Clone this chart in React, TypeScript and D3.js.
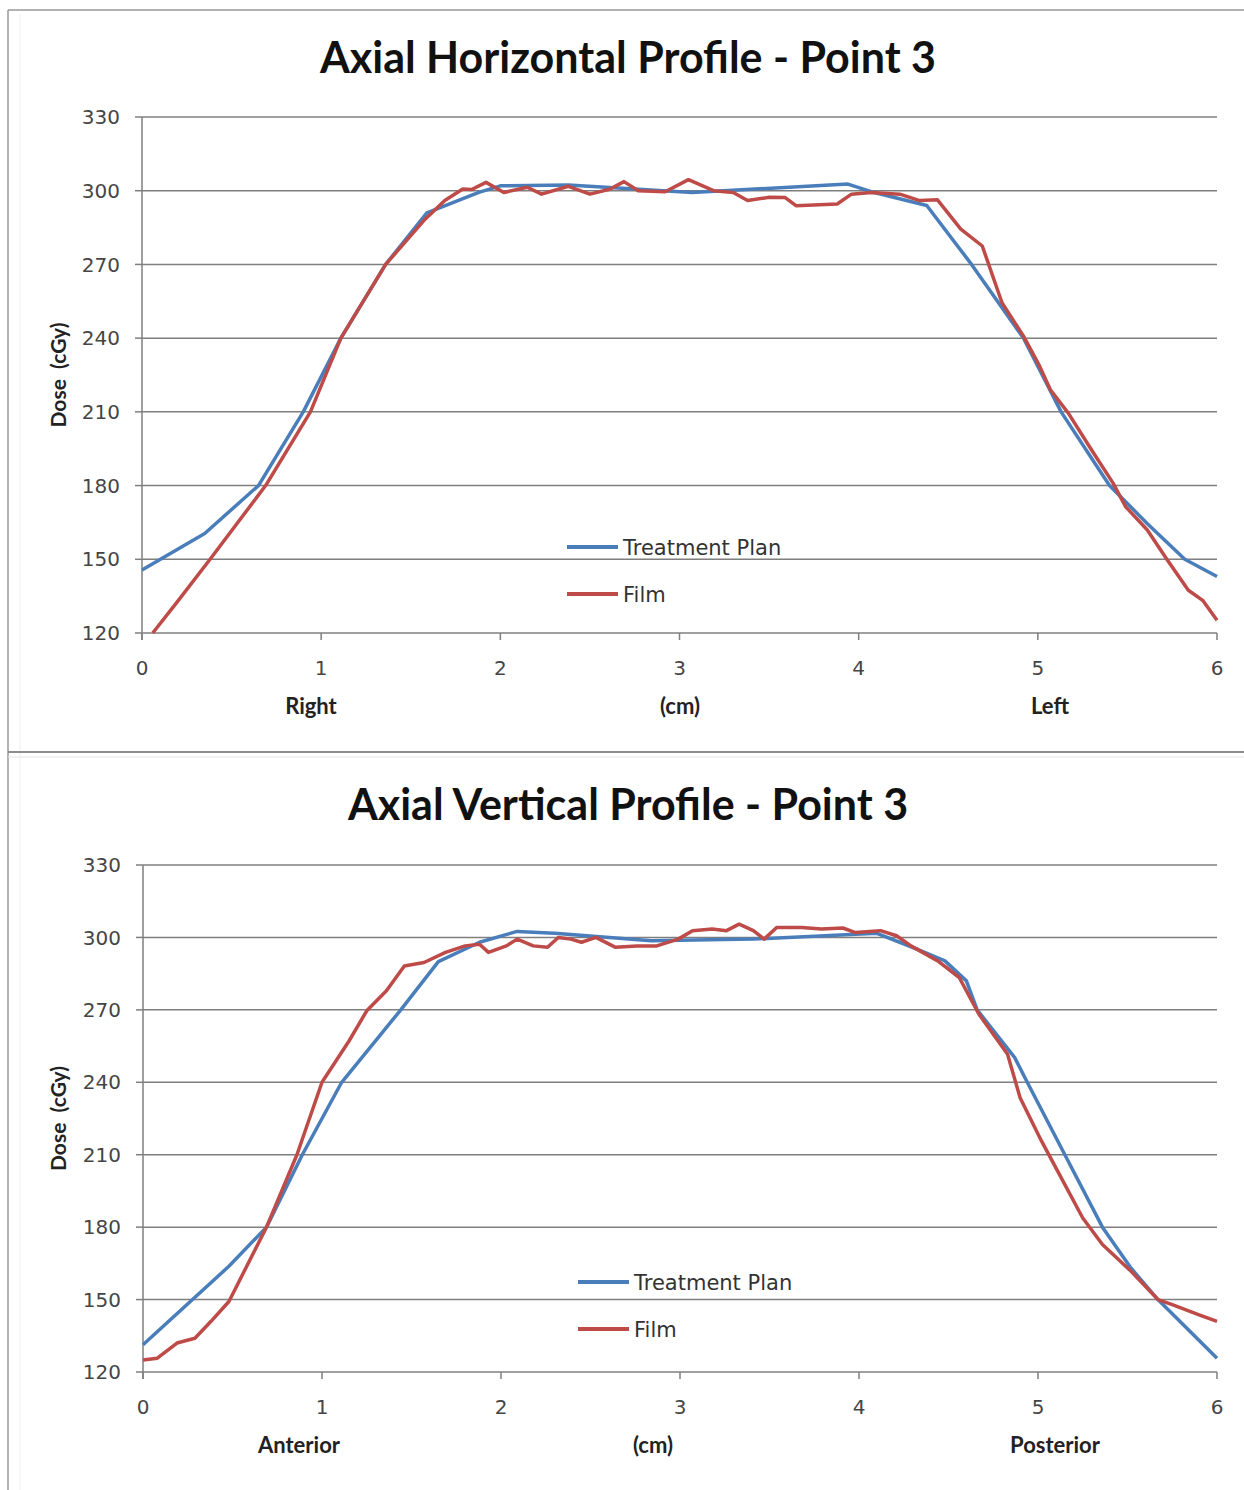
import React from "react";
import * as d3 from "d3";

// ---------- DATA ----------
const yTicks = [120, 150, 180, 210, 240, 270, 300, 330];
const xTicks = [0, 1, 2, 3, 4, 5, 6];

const legendLabels = ["Treatment Plan", "Film"];

// Top chart: Axial Horizontal Profile
const hTitle = "Axial Horizontal Profile - Point 3";
const hAxisLabels = ["Right", "(cm)", "Left"];
const hPlanX = [0, 0.35, 0.65, 0.9, 1.11, 1.36, 1.59, 1.88, 2.0, 2.38, 3.07, 3.94, 4.07, 4.38, 4.63, 4.92, 5.13, 5.4, 5.61, 5.82, 6.0];
const hPlanY = [145.6, 160.5, 180, 210, 240, 270, 291, 299.3, 302, 302.3, 299.3, 302.7, 299.6, 294, 270, 240, 210, 180, 164.6, 150, 143];
const hFilmX = [0.06, 0.2, 0.38, 0.69, 0.94, 1.11, 1.36, 1.58, 1.69, 1.79, 1.84, 1.92, 2.02, 2.15, 2.23, 2.38, 2.5, 2.61, 2.69, 2.77, 2.92, 3.05, 3.19, 3.3, 3.38, 3.5, 3.59, 3.65, 3.88, 3.96, 4.07, 4.23, 4.34, 4.44, 4.57, 4.69, 4.8, 4.92, 5.01, 5.07, 5.17, 5.3, 5.42, 5.49, 5.61, 5.72, 5.84, 5.92, 6.0];
const hFilmY = [120, 133, 150, 180, 210, 240, 270, 288.4, 296, 300.7, 300.5, 303.4, 299.3, 301.4, 298.6, 301.8, 298.6, 300.6, 303.7, 300, 299.6, 304.5, 300, 299.3, 296, 297.3, 297.2, 293.9, 294.6, 298.6, 299.3, 298.6, 296, 296.3, 284.4, 277.5, 254.4, 240.8, 228.6, 219, 209.5, 194.5, 181, 171.4, 162, 150, 137.4, 133.3, 125.2];

// Bottom chart: Axial Vertical Profile
const vTitle = "Axial Vertical Profile - Point 3";
const vAxisLabels = ["Anterior", "(cm)", "Posterior"];
const vPlanX = [0, 0.48, 0.69, 0.89, 1.11, 1.44, 1.65, 1.88, 2.09, 2.3, 2.84, 3.41, 4.1, 4.33, 4.48, 4.6, 4.66, 4.87, 4.94, 5.15, 5.36, 5.52, 5.67, 6.0];
const vPlanY = [131.3, 163.8, 180, 210, 240, 270, 290, 298, 302.5, 301.7, 298.6, 299.3, 301.7, 295, 290.3, 282, 270, 250.2, 240, 210, 180, 163, 150, 125.7];
const vFilmX = [0, 0.08, 0.19, 0.29, 0.38, 0.48, 0.69, 0.86, 1.0, 1.15, 1.25, 1.36, 1.46, 1.57, 1.69, 1.8, 1.88, 1.93, 2.03, 2.09, 2.18, 2.26, 2.32, 2.39, 2.45, 2.53, 2.64, 2.76, 2.87, 2.99, 3.07, 3.18, 3.26, 3.33, 3.41, 3.47, 3.54, 3.68, 3.79, 3.91, 3.98, 4.12, 4.21, 4.29, 4.44, 4.56, 4.67, 4.83, 4.9, 5.02, 5.13, 5.25, 5.36, 5.52, 5.67, 5.75, 5.9, 6.0];
const vFilmY = [125, 125.7, 132, 134, 141, 149.2, 180, 210, 240, 257, 269.6, 277.9, 288.2, 289.6, 293.8, 296.5, 297.2, 293.8, 296.5, 299.3, 296.5, 295.9, 300, 299.3, 298, 300, 295.9, 296.5, 296.5, 299.3, 302.8, 303.5, 302.8, 305.5, 302.8, 299.3, 304.1, 304.1, 303.5, 303.9, 302, 302.8, 300.7, 296.5, 290.3, 283.4, 268.2, 251.6, 233.6, 215.6, 200.4, 183.8, 172.8, 161.7, 150, 147.9, 143.7, 141];

const zip = (xs: number[], ys: number[]) => xs.map((x, i) => [x, ys[i]] as [number, number]);

const BLUE = "#4A7EBB";
const RED = "#BE4B48";

type ChartProps = {
  title: string;
  titleY: number;
  axisLabels: string[];
  axisLabelX: number[];
  left: number; right: number; top: number; bottom: number;
  plan: [number, number][];
  film: [number, number][];
  legendX: number; legendY: number;
};

function Chart(p: ChartProps) {
  const x = d3.scaleLinear().domain([0, 6]).range([p.left, p.right]);
  const y = d3.scaleLinear().domain([120, 330]).range([p.bottom, p.top]);
  const line = d3.line<[number, number]>().x(d => x(d[0])).y(d => y(d[1]));
  const tickFont = "'DejaVu Sans', sans-serif";
  const labelFont = "Lato, 'Open Sans', sans-serif";
  return (
    <g>
      <text x={628} y={p.titleY} textAnchor="middle" fontFamily={labelFont} fontWeight={700} fontSize={43} fill="#111">{p.title}</text>
      {yTicks.map(t => (
        <g key={t}>
          <line x1={p.left} x2={p.right} y1={y(t)} y2={y(t)} stroke="#7f7f7f" strokeWidth={1.5} />
          <line x1={p.left - 7} x2={p.left} y1={y(t)} y2={y(t)} stroke="#7f7f7f" strokeWidth={1.5} />
          <text x={p.left - 22} y={y(t)} dy="0.36em" textAnchor="end" fontFamily={tickFont} fontSize={20} fill="#454545">{t}</text>
        </g>
      ))}
      <line x1={p.left} x2={p.left} y1={p.top} y2={p.bottom + 7} stroke="#7f7f7f" strokeWidth={1.5} />
      {xTicks.map(t => (
        <g key={t}>
          <line x1={x(t)} x2={x(t)} y1={p.bottom} y2={p.bottom + 7} stroke="#7f7f7f" strokeWidth={1.5} />
          <text x={x(t)} y={p.bottom + 42} textAnchor="middle" fontFamily={tickFont} fontSize={20} fill="#454545">{t}</text>
        </g>
      ))}
      {p.axisLabels.map((l, i) => (
        <text key={l} x={p.axisLabelX[i]} y={p.bottom + 81} textAnchor="middle" fontFamily={labelFont} fontWeight={700} fontSize={22} fill="#222">{l}</text>
      ))}
      <text transform={`translate(66,${(p.top + p.bottom) / 2}) rotate(-90)`} textAnchor="middle" fontFamily={labelFont} fontWeight={700} fontSize={21} fill="#222" style={{ whiteSpace: "pre" }}>{"Dose  (cGy)"}</text>
      <path d={line(p.plan) || ""} fill="none" stroke={BLUE} strokeWidth={3.5} strokeLinejoin="round" />
      <path d={line(p.film) || ""} fill="none" stroke={RED} strokeWidth={3.5} strokeLinejoin="round" />
      {legendLabels.map((l, i) => (
        <g key={l}>
          <line x1={p.legendX} x2={p.legendX + 51} y1={p.legendY + i * 47} y2={p.legendY + i * 47} stroke={i === 0 ? BLUE : RED} strokeWidth={4} />
          <text x={p.legendX + 56} y={p.legendY + i * 47} dy="0.36em" fontFamily={tickFont} fontSize={21} fill="#333">{l}</text>
        </g>
      ))}
    </g>
  );
}

export default function App() {
  return (
    <svg width={1244} height={1490} style={{ position: "absolute", left: 0, top: 0, background: "#fff" }}>
      <rect x={0} y={0} width={1244} height={1490} fill="#fff" />
      <line x1={8} x2={1244} y1={10} y2={10} stroke="#999" strokeWidth={1.5} />
      <line x1={8} x2={8} y1={10} y2={1490} stroke="#999" strokeWidth={1.5} />
      <line x1={20} x2={20} y1={14} y2={1490} stroke="#eee" strokeWidth={1} />
      <line x1={8} x2={1244} y1={752} y2={752} stroke="#8c8c8c" strokeWidth={2} />
      <line x1={8} x2={1244} y1={757} y2={757} stroke="#e4e4e4" strokeWidth={1} />
      <Chart
        title={hTitle} titleY={73} axisLabels={hAxisLabels} axisLabelX={[311, 680, 1050]}
        left={142} right={1217} top={117} bottom={633}
        plan={zip(hPlanX, hPlanY)} film={zip(hFilmX, hFilmY)}
        legendX={567} legendY={547}
      />
      <Chart
        title={vTitle} titleY={820} axisLabels={vAxisLabels} axisLabelX={[299, 653, 1055]}
        left={143} right={1217} top={865} bottom={1372}
        plan={zip(vPlanX, vPlanY)} film={zip(vFilmX, vFilmY)}
        legendX={578} legendY={1282}
      />
    </svg>
  );
}
